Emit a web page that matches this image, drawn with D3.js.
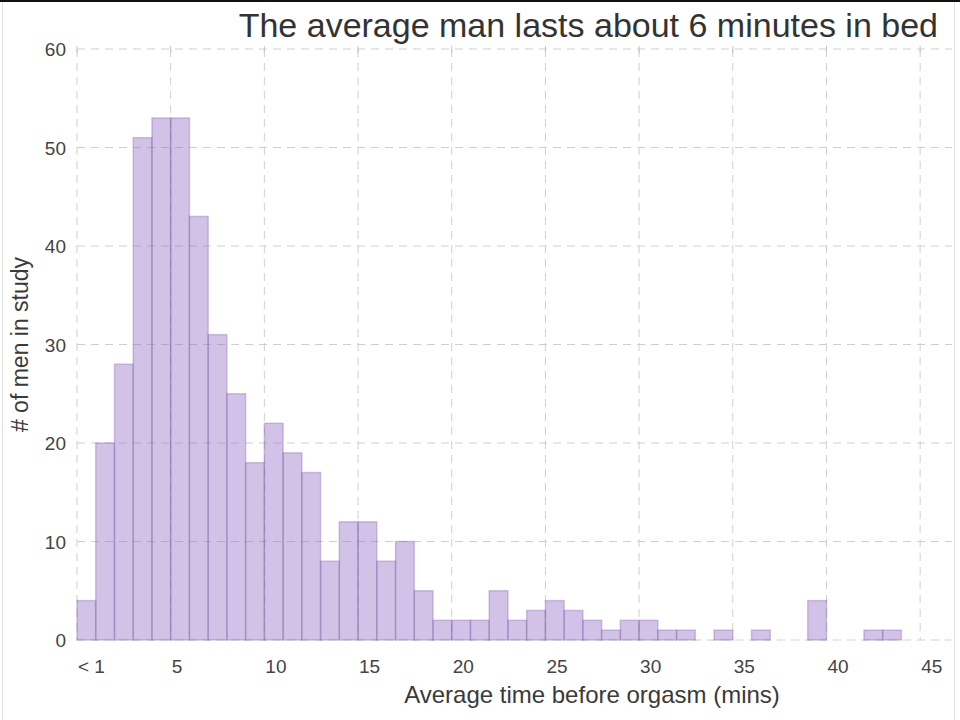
<!DOCTYPE html>
<html>
<head>
<meta charset="utf-8">
<script src="https://cdn.jsdelivr.net/npm/d3@7"></script>
<style>
  body { margin: 0; background: #fff; }
  svg { display: block; font-family: "Liberation Sans", Arial, sans-serif; }
</style>
</head>
<body>
<div id="chart"></div>
<script>
// histogram: one bin per minute, bin start in minutes
const binStart = [0, 1, 2, 3, 4, 5, 6, 7, 8, 9, 10, 11, 12, 13, 14, 15, 16, 17, 18, 19, 20, 21, 22,
                  23, 24, 25, 26, 27, 28, 29, 30, 31, 32, 33, 34, 35, 36, 37, 38, 39, 40, 41, 42, 43];
const counts = [4, 20, 28, 51, 53, 53, 43, 31, 25, 18, 22, 19, 17, 8, 12, 12, 8, 10, 5, 2, 2, 2, 5,
                2, 3, 4, 3, 2, 1, 2, 2, 1, 1, 0, 1, 0, 1, 0, 0, 4, 0, 0, 1, 1];

const xTicks = [0, 5, 10, 15, 20, 25, 30, 35, 40, 45];
const xTickLabels = ["< 1", "5", "10", "15", "20", "25", "30", "35", "40", "45"];
const yTicks = [0, 10, 20, 30, 40, 50, 60];

const w = 960;
const h = 720;
const margin = { top: 49, right: 8, bottom: 80, left: 77 };

const svg = d3.select("#chart")
    .append("svg")
    .attr("width", w)
    .attr("height", h);

const x = d3.scaleLinear()
    .domain([0, 46.7])
    .range([margin.left, w - margin.right]);

const y = d3.scaleLinear()
    .domain([0, 60])
    .range([h - margin.bottom, margin.top]);

// dashed grid
const gridColor = "#cfcfcf";
svg.append("g")
    .selectAll("line")
    .data(xTicks)
    .join("line")
    .attr("x1", d => x(d)).attr("x2", d => x(d))
    .attr("y1", y(60)).attr("y2", y(0))
    .attr("stroke", gridColor)
    .attr("stroke-width", 1)
    .attr("stroke-dasharray", "8,6");

svg.append("g")
    .selectAll("line")
    .data(yTicks)
    .join("line")
    .attr("x1", x(0)).attr("x2", w - margin.right)
    .attr("y1", d => y(d)).attr("y2", d => y(d))
    .attr("stroke", gridColor)
    .attr("stroke-width", 1)
    .attr("stroke-dasharray", "8,6");

// small tick marks on top edge
svg.append("g")
    .selectAll("line")
    .data(xTicks)
    .join("line")
    .attr("x1", d => x(d)).attr("x2", d => x(d))
    .attr("y1", y(60) - 3).attr("y2", y(60) + 4)
    .attr("stroke", "#c4c4c4");

// bars
const bins = binStart.map((b, i) => ({ start: b, count: counts[i] }));
svg.append("g")
    .selectAll("rect")
    .data(bins.filter(d => d.count > 0))
    .join("rect")
    .attr("x", d => x(d.start))
    .attr("width", d => x(d.start + 1) - x(d.start))
    .attr("y", d => y(d.count))
    .attr("height", d => y(0) - y(d.count))
    .attr("fill", "rgb(150, 110, 198)")
    .attr("fill-opacity", 0.42)
    .attr("stroke", "rgb(130, 100, 170)")
    .attr("stroke-opacity", 0.35)
    .attr("stroke-width", 1.5);

// tick labels
svg.append("g")
    .selectAll("text")
    .data(xTicks)
    .join("text")
    .attr("x", d => x(d) + 1)
    .attr("y", 673)
    .attr("fill", "#444")
    .style("font-size", "19px")
    .text((d, i) => xTickLabels[i]);

svg.append("g")
    .selectAll("text")
    .data(yTicks)
    .join("text")
    .attr("x", 66)
    .attr("y", d => y(d) + 7)
    .attr("text-anchor", "end")
    .attr("fill", "#444")
    .style("font-size", "19px")
    .text(d => d);

// labels and title
svg.append("text")
    .attr("x", 592)
    .attr("y", 703)
    .attr("text-anchor", "middle")
    .attr("fill", "#3a3a3a")
    .style("font-size", "24px")
    .text("Average time before orgasm (mins)");

svg.append("text")
    .attr("transform", `translate(28, ${(y(0) + y(60)) / 2}) rotate(-90)`)
    .attr("text-anchor", "middle")
    .attr("fill", "#3a3a3a")
    .style("font-size", "23px")
    .text("# of men in study");

svg.append("text")
    .attr("x", 938)
    .attr("y", 37)
    .attr("text-anchor", "end")
    .attr("fill", "#333")
    .style("font-size", "34px")
    .text("The average man lasts about 6 minutes in bed");

// screenshot frame
svg.append("rect")
    .attr("x", 0).attr("y", 0)
    .attr("width", w).attr("height", 2)
    .attr("fill", "#111");
svg.append("line")
    .attr("x1", 2.5).attr("x2", 2.5).attr("y1", 2).attr("y2", h)
    .attr("stroke", "#e2e2e2");
svg.append("line")
    .attr("x1", 954.5).attr("x2", 954.5).attr("y1", 2).attr("y2", h)
    .attr("stroke", "#e2e2e2");
</script>
</body>
</html>
